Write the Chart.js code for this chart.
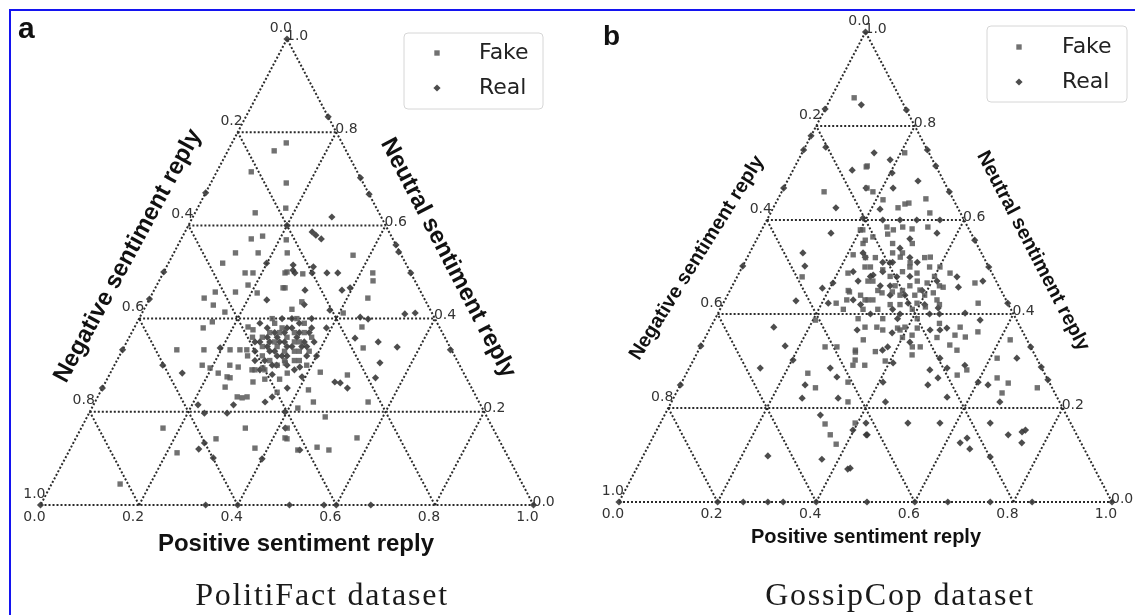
<!DOCTYPE html>
<html><head><meta charset="utf-8">
<script src="https://cdn.jsdelivr.net/npm/chart.js@4.4.0/dist/chart.umd.min.js"></script>
<style>
html,body{margin:0;padding:0;background:#fff;}
body{width:1135px;height:615px;position:relative;overflow:hidden;}
#frame{position:absolute;left:9px;top:9px;width:1300px;height:800px;border-top:2px solid #1414f0;border-left:2px solid #1414f0;}
canvas{position:absolute;top:0;}
#ca{left:0;} #cb{left:567px;}
</style></head><body>
<div id="frame"></div>
<canvas id="ca" width="567" height="615"></canvas>
<canvas id="cb" width="568" height="615"></canvas>
<script>
// ---------- data (ternary compositions: positive, neutral; negative = 1 - positive - neutral) ----------
const categories = ['Fake', 'Real'];
const gridTicks = [0.2, 0.4, 0.6, 0.8];
const tickValues = [0, 0.2, 0.4, 0.6, 0.8, 1.0];
const tickLabels = ['0.0', '0.2', '0.4', '0.6', '0.8', '1.0'];
const axisTitles = ['Positive sentiment reply', 'Neutral sentiment reply', 'Negative sentiment reply'];
const panelTitles = ['PolitiFact dataset', 'GossipCop dataset'];
const panelLetters = ['a', 'b'];

// PolitiFact – Fake
const politiFakePos = [0.094,0.110,0.070,0.153,0.122,0.179,0.142,0.162,0.214,0.125,0.171,0.230,0.110,0.166,0.182,0.250,0.110,0.126,0.167,0.185,0.212,0.259,0.136,0.167,0.152,0.140,0.230,0.243,0.110,0.165,0.218,0.238,0.252,0.178,0.197,0.219,0.234,0.241,0.248,0.253,0.284,0.304,0.359,0.248,0.283,0.294,0.303,0.299,0.359,0.166,0.333,0.285,0.221,0.374,0.418,0.429,0.463,0.139,0.366,0.247,0.284,0.425,0.434,0.263,0.442,0.312,0.408,0.461,0.486,0.344,0.425,0.483,0.420,0.443,0.554,0.418,0.483,0.424,0.570,0.499,0.526,
  0.30,0.32,0.28,0.35,0.31,0.34,0.27,0.37,0.29,0.33,0.36,0.30,0.25,0.38,0.32,0.26,0.35,0.39,0.28,0.34,
  0.33,0.30,0.35,0.28,0.32,0.36,0.29,0.34,0.31,0.37,0.27,0.33,0.30,0.35,0.31];
const politiFakeNeu = [0.760,0.777,0.715,0.691,0.627,0.637,0.571,0.577,0.569,0.541,0.541,0.541,0.519,0.498,0.498,0.500,0.444,0.457,0.457,0.472,0.455,0.466,0.429,0.414,0.393,0.380,0.382,0.376,0.333,0.333,0.333,0.333,0.333,0.300,0.294,0.283,0.300,0.275,0.273,0.296,0.290,0.294,0.283,0.253,0.232,0.230,0.232,0.264,0.242,0.165,0.165,0.142,0.112,0.122,0.165,0.142,0.118,0.045,0.536,0.498,0.496,0.498,0.481,0.466,0.444,0.436,0.412,0.382,0.337,0.305,0.285,0.279,0.247,0.221,0.221,0.208,0.189,0.144,0.144,0.124,0.118,
  0.38,0.36,0.34,0.33,0.31,0.39,0.40,0.36,0.29,0.30,0.31,0.42,0.36,0.33,0.27,0.32,0.27,0.30,0.37,0.35,
  0.37,0.35,0.35,0.39,0.40,0.33,0.32,0.31,0.29,0.31,0.36,0.33,0.37,0.37,0.34];
// PolitiFact – Real
const politiRealPos = [0,0,0.200,0.167,0.298,0.333,0.282,0.258,0.269,0.284,0.442,0,0.199,0.260,0.239,0,0.196,0.098,0.146,0.329,0,0,0.284,0.345,0.354,0.212,0.234,0.280,0.261,0.266,0.300,0.400,0.455,0.255,0.267,0.298,0.302,0.332,0.354,0.502,0.306,0.381,0.395,0.534,0.554,0.447,0.465,0.378,0.459,0.510,0.554,0.665,0.536,0.378,0.543,0.465,0.477,0.497,0.393,0.375,0.396,0.414,0.467,
  0,0.335,0.400,0.505,0.575,0.600,0.670,1,
  0.31,0.33,0.29,0.36,0.32,0.30,0.34,0.27,0.35,0.31,0.38,0.28,0.30,0.37,0.33,0.25,0.40,0.26,0.36,0.32,0.29,0.34,0.31,0.39,0.27,
  0.32,0.30,0.34,0.29,0.33,0.36,0.31,0.28,0.35,0.32,0.38,0.30,0.33,0.27,0.36,0.34,0.31,0.29,0.37,0.32];
const politiRealNeu = [1,0.670,0.600,0.833,0.702,0.667,0.618,0.586,0.579,0.571,0.558,0.500,0.519,0.504,0.440,0.442,0.337,0.300,0.283,0.300,0.333,0.251,0.215,0.221,0.232,0.215,0.197,0.197,0.120,0.133,0.101,0.099,0.543,0.515,0.498,0.511,0.498,0.498,0.498,0.498,0.461,0.461,0.466,0.410,0.412,0.403,0.399,0.418,0.358,0.350,0.339,0.333,0.305,0.296,0.273,0.264,0.262,0.251,0.275,0.251,0.200,0.165,0.118,
  0,0,0,0,0,0,0,0,
  0.37,0.34,0.35,0.34,0.32,0.33,0.37,0.38,0.40,0.40,0.35,0.31,0.29,0.29,0.28,0.39,0.32,0.35,0.37,0.43,0.40,0.32,0.35,0.38,0.33,
  0.38,0.36,0.36,0.34,0.32,0.35,0.33,0.36,0.30,0.30,0.32,0.31,0.39,0.35,0.38,0.34,0.38,0.37,0.34,0.35];

// GossipCop – Fake
const gossipFakePos = [0.047,0.145,0.086,0.205,0.208,0.146,0.169,0.185,0.214,0.253,0.263,0.270,0.300,0.323,0.251,0.267,0.283,0.304,0.334,0.200,0.221,0.233,
  0.132,0.229,0.221,0.212,0.244,0.247,0.249,0.284,0.205,0.253,0.277,0.246,0.277,0.337,0.358,0.320,0.329,0.335,0.357,0.379,0.395,
  0.489,0.517,0.428,0.401,0.371,0.429,0.415,0.430,0.392,0.385,0.336,0.310,0.361,0.311,0.331,0.290,0.350,0.393,0.414,0.547,0.621,0.614,0.506,0.527,0.504,0.504,0.524,0.417,0.446,0.438,0.387,0.394,0.352,0.337,0.313,0.323,0.318,0.328,0.353,0.565,0.551,0.635,0.663,0.661,0.727,0.288,
  0.27,0.30,0.33,0.36,0.26,0.31,0.34,0.38,0.29,0.40,0.24,0.28,
  0.26,0.28,0.31,0.33,0.35,0.37,0.30,0.32,0.34,0.36,0.39,0.41,0.27,0.29,0.38,0.42,0.25,0.34,0.36,0.40,
  0.22,0.24,0.29,0.32,0.26,0.38,0.42,0.44,0.46,0.40,0.43,0.47,0.36,0.39];
const gossipFakeNeu = [0.860,0.713,0.660,0.579,0.743,0.715,0.668,0.660,0.643,0.626,0.634,0.636,0.645,0.615,0.585,0.579,0.585,0.581,0.585,0.579,0.557,0.564,
  0.479,0.423,0.487,0.526,0.447,0.430,0.500,0.430,0.387,0.330,0.330,0.274,0.243,0.255,0.213,0.319,0.291,0.166,0.143,0.123,0.168,
  0.466,0.423,0.487,0.500,0.521,0.457,0.445,0.430,0.466,0.451,0.509,0.521,0.487,0.445,0.447,0.430,0.440,0.423,0.415,0.362,0.345,0.306,0.372,0.351,0.355,0.334,0.323,0.355,0.330,0.313,0.366,0.372,0.366,0.372,0.372,0.345,0.323,0.302,0.291,0.281,0.270,0.264,0.253,0.232,0.243,0.494,
  0.47,0.45,0.49,0.46,0.52,0.53,0.42,0.44,0.41,0.48,0.45,0.55,
  0.50,0.47,0.48,0.46,0.45,0.47,0.43,0.41,0.39,0.42,0.41,0.39,0.44,0.39,0.37,0.37,0.41,0.50,0.52,0.44,
  0.55,0.52,0.53,0.55,0.57,0.50,0.46,0.42,0.38,0.35,0.33,0.35,0.32,0.30];
// GossipCop – Real
const gossipRealPos = [0,0.069,0,0,0,0,0.042,0.120,0.167,0.127,0.144,0.166,0.146,0.186,0.251,0.285,0.204,0.265,0.222,0.340,0.218,0.193,0.235,0.270,0.304,0.351,0.359,0.443,
  0.108,0.126,0,0.145,0.185,0.201,0.213,0.239,0.128,0.171,0.202,0.144,0,0,0.286,0.309,0.253,0.261,0.334,0.316,0.417,0.430,0.253,0.366,0.429,
  0,0.200,0.252,0.302,0.333,0.400,0.503,0.600,0.667,0.753,0.838,1,
  0.500,0.577,0.503,0.460,0.446,0.324,0.295,0.274,0.375,0.441,0.501,0.539,0.670,0.713,0.740,0.654,0.468,0.448,0.374,0.300,0.373,0.408,0.498,0.523,0.556,0.490,0.515,0.502,0.601,0.624,0.666,0.554,0.408,0.434,0.398,0.432,0.433,0.502,0.567,0.629,0.638,0.655,0.669,0.705,0.718,0.743,0.748,0.754,
  0.29,0.32,0.35,0.26,0.37,0.30,0.23,0.41,
  0.27,0.30,0.33,0.36,0.31,0.35,0.28,0.39,0.33,0.25,0.37,0.43,
  0.23,0.28,0.31,0.35,0.41,0.45,0.42,0.38,0.48,0.30];
const gossipRealNeu = [1,0.845,0.836,0.779,0.749,0.668,0.755,0.706,0.668,0.626,0.572,0.834,0.743,0.728,0.749,0.715,0.700,0.683,0.668,0.660,0.623,0.604,0.600,0.600,0.600,0.600,0.572,0.557,
  0.530,0.502,0.502,0.428,0.455,0.466,0.423,0.521,0.372,0.332,0.302,0.285,0.332,0.249,0.285,0.266,0.249,0.221,0.221,0.185,0.168,0.143,0.098,0.091,0.070,
  0,0,0,0,0,0,0,0,0,0,0,0,
  0.500,0.423,0.470,0.457,0.479,0.479,0.509,0.483,0.423,0.413,0.402,0.387,0.330,0.287,0.260,0.306,0.366,0.366,0.360,0.366,0.323,0.296,0.306,0.285,0.291,0.281,0.264,0.249,0.255,0.249,0.213,0.223,0.255,0.213,0.153,0.143,0.072,0.168,0.168,0.126,0.136,0.113,0.168,0.096,0.143,0.149,0.153,0.126,
  0.49,0.46,0.51,0.43,0.40,0.51,0.49,0.42,
  0.48,0.46,0.44,0.44,0.40,0.41,0.42,0.45,0.52,0.47,0.39,0.40,
  0.53,0.51,0.56,0.48,0.47,0.40,0.34,0.33,0.37,0.54];

// ---------- drawing ----------
function ternaryDeco(d) {
  return {
    id: 'ternaryDeco',
    beforeDatasetsDraw(chart) {
      const ctx = chart.ctx, xs = chart.scales.x, ys = chart.scales.y;
      const P = (p, n) => [xs.getPixelForValue(p + n / 2), ys.getPixelForValue(n)];
      const seg = (a, b) => { const A = P(a[0], a[1]), B = P(b[0], b[1]); ctx.moveTo(A[0], A[1]); ctx.lineTo(B[0], B[1]); };
      ctx.save();
      ctx.strokeStyle = 'rgba(25,25,25,0.92)';
      ctx.lineWidth = 2;
      ctx.setLineDash([2, 2]);
      ctx.beginPath();
      seg([0, 0], [1, 0]); seg([1, 0], [0, 1]); seg([0, 1], [0, 0]);
      gridTicks.forEach(k => {
        seg([0, k], [1 - k, k]);      // neutral = k
        seg([k, 0], [k, 1 - k]);      // positive = k
        seg([1 - k, 0], [0, 1 - k]);  // negative = k
      });
      ctx.stroke();
      ctx.restore();

      // tick labels
      ctx.save();
      ctx.fillStyle = '#333';
      ctx.font = '14px "DejaVu Sans"';
      tickValues.forEach((k, i) => {
        const t = tickLabels[i];
        let q = P(k, 0);
        ctx.textAlign = 'center'; ctx.textBaseline = 'middle';
        ctx.fillText(t, q[0] - 6, q[1] + 12);
        q = P(1 - k, k);
        ctx.textAlign = 'left';
        ctx.fillText(t, q[0] - 1, q[1] - 3);
        q = P(0, 1 - k);
        ctx.textAlign = 'right';
        ctx.fillText(t, q[0] + 5, q[1] - 11);
      });
      ctx.restore();
    },
    afterDraw(chart) {
      const ctx = chart.ctx;
      ctx.save();
      ctx.fillStyle = '#111';
      ctx.font = 'bold ' + d.letterSize + 'px "Liberation Sans"';
      ctx.textAlign = 'left'; ctx.textBaseline = 'alphabetic';
      ctx.fillText(d.letter, d.letterPos[0], d.letterPos[1]);
      ctx.font = 'bold ' + d.axisSize + 'px "Liberation Sans"';
      ctx.textAlign = 'center'; ctx.textBaseline = 'middle';
      ctx.fillText(axisTitles[0], d.xTitle[0], d.xTitle[1]);
      [[axisTitles[2], d.leftTitle], [axisTitles[1], d.rightTitle]].forEach(([txt, a]) => {
        ctx.save();
        ctx.translate(a[0], a[1]);
        ctx.rotate(a[2] * Math.PI / 180);
        ctx.fillText(txt, 0, 0);
        ctx.restore();
      });
      ctx.fillStyle = '#1a1a1a';
      ctx.font = d.titleSize + 'px "Liberation Serif"';
      try { ctx.letterSpacing = '1.8px'; } catch (e) {}
      ctx.fillText(d.title, d.titlePos[0], d.titlePos[1]);
      try { ctx.letterSpacing = '0px'; } catch (e) {}
      const L = d.legend;
      ctx.beginPath();
      const r = 4, x0 = L.box[0], y0 = L.box[1], x1 = L.box[2], y1 = L.box[3];
      ctx.moveTo(x0 + r, y0); ctx.arcTo(x1, y0, x1, y1, r); ctx.arcTo(x1, y1, x0, y1, r);
      ctx.arcTo(x0, y1, x0, y0, r); ctx.arcTo(x0, y0, x1, y0, r); ctx.closePath();
      ctx.fillStyle = 'rgba(255,255,255,0.85)'; ctx.fill();
      ctx.strokeStyle = '#d6d6d6'; ctx.lineWidth = 1; ctx.stroke();
      chart.data.datasets.forEach((ds, i) => {
        const y = L.rows[i];
        ctx.fillStyle = ds.backgroundColor;
        const rad = ds.pointRadius;
        ctx.beginPath();
        if (ds.pointStyle === 'rect') {
          const s = rad * Math.SQRT1_2; ctx.rect(L.markX - s, y - s, 2 * s, 2 * s);
        } else {
          ctx.moveTo(L.markX - rad, y); ctx.lineTo(L.markX, y - rad); ctx.lineTo(L.markX + rad, y); ctx.lineTo(L.markX, y + rad); ctx.closePath();
        }
        ctx.fill();
        ctx.fillStyle = '#222';
        ctx.font = '22px "DejaVu Sans"';
        ctx.textAlign = 'left'; ctx.textBaseline = 'middle';
        ctx.fillText(ds.label, L.textX, y);
      });
      ctx.restore();
    }
  };
}

function buildPanel(canvasId, fakeP, fakeN, realP, realN, pad, deco) {
  const toXY = (P, N) => P.map((p, i) => ({ x: p + N[i] / 2, y: N[i] }));
  return new Chart(document.getElementById(canvasId), {
    type: 'scatter',
    data: {
      datasets: [
        { label: categories[0], data: toXY(fakeP, fakeN), pointStyle: 'rect', pointRadius: 3.8,
          backgroundColor: 'rgba(88,88,88,0.85)', borderWidth: 0, clip: false },
        { label: categories[1], data: toXY(realP, realN), pointStyle: 'rectRot', pointRadius: 3.6,
          backgroundColor: 'rgba(58,58,58,0.9)', borderWidth: 0, clip: false }
      ]
    },
    options: {
      responsive: false, animation: false, events: [],
      layout: { padding: pad },
      scales: {
        x: { type: 'linear', min: 0, max: 1, display: false },
        y: { type: 'linear', min: 0, max: 1, display: false }
      },
      plugins: { legend: { display: false }, tooltip: { enabled: false } }
    },
    plugins: [ternaryDeco(deco)]
  });
}

buildPanel('ca', politiFakePos, politiFakeNeu, politiRealPos, politiRealNeu,
  { left: 40.5, right: 33.5, top: 39, bottom: 110 },
  { letter: panelLetters[0], letterSize: 30, letterPos: [18, 38],
    axisSize: 24, xTitle: [296, 544], leftTitle: [128, 256, -61.5], rightTitle: [448, 258, 62.5],
    title: panelTitles[0], titleSize: 32, titlePos: [322, 597],
    legend: { box: [404, 33, 543, 109], markX: 437, textX: 479, rows: [53, 88] } });

buildPanel('cb', gossipFakePos, gossipFakeNeu, gossipRealPos, gossipRealNeu,
  { left: 52, right: 23, top: 32, bottom: 113 },
  { letter: panelLetters[1], letterSize: 28, letterPos: [36, 45],
    axisSize: 20, xTitle: [299, 537], leftTitle: [130, 258, -58], rightTitle: [466, 251, 62.5],
    title: panelTitles[1], titleSize: 32, titlePos: [333, 597],
    legend: { box: [420, 26, 560, 102], markX: 452, textX: 495, rows: [47, 82] } });
</script>
</body></html>
